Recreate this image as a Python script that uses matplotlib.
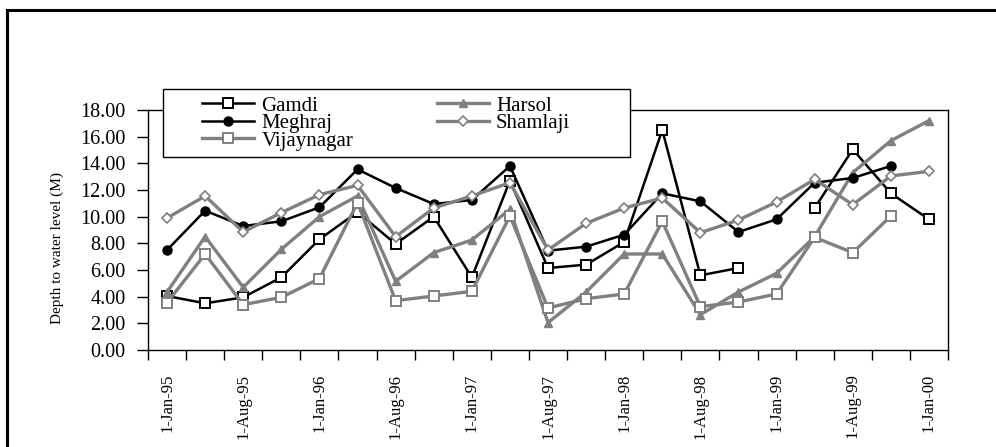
import numpy as np
import matplotlib
matplotlib.use('Agg')
import matplotlib.pyplot as plt
from matplotlib.lines import Line2D
from matplotlib.patches import Rectangle

plt.rcParams['font.family'] = ['Liberation Serif', 'DejaVu Serif']

# ------------------------------------------------------------
# Data (read off the chart, 21 observations, None = no reading)
# ------------------------------------------------------------
date_labels = ['1-Jan-95', '1-Aug-95', '1-Jan-96', '1-Aug-96', '1-Jan-97',
               '1-Aug-97', '1-Jan-98', '1-Aug-98', '1-Jan-99', '1-Aug-99',
               '1-Jan-00']

gamdi = [4.05, 3.50, 3.95, 5.45, 8.30, 10.35, 7.95, 10.00, 5.45, 12.70,
         6.15, 6.40, 8.10, 16.50, 5.60, 6.15, None, 10.65, 15.05, 11.75, 9.80]
harsol = [4.35, 8.50, 4.70, 7.55, 10.00, 11.55, 5.15, 7.30, 8.25, 10.55,
          2.05, 4.35, 7.20, 7.20, 2.65, 4.35, 5.75, 8.50, 13.30, 15.70, 17.20]
meghraj = [7.50, 10.45, 9.30, 9.65, 10.70, 13.55, 12.15, 10.95, 11.25, 13.80,
           7.45, 7.75, 8.65, 11.75, 11.15, 8.85, 9.80, 12.55, 12.90, 13.80, None]
shamlaji = [9.90, 11.55, 8.85, 10.30, 11.65, 12.35, 8.50, 10.65, 11.55, 12.55,
            7.50, 9.50, 10.65, 11.40, 8.80, 9.75, 11.10, 12.80, 10.90, 13.05, 13.40]
vijaynagar = [3.55, 7.20, 3.40, 3.95, 5.35, 11.05, 3.70, 4.05, 4.40, 10.05,
              3.15, 3.85, 4.20, 9.65, 3.25, 3.60, 4.20, 8.45, 7.30, 10.05, None]

GRAY = '#808080'
W, H = 996, 447


def arr(v):
    return np.array([np.nan if x is None else x for x in v], dtype=float)


x = np.arange(len(gamdi))

fig = plt.figure(figsize=(W / 100, H / 100), dpi=100)
ax = fig.add_axes([148 / W, 97 / H, 800 / W, 240 / H])

ax.plot(x, arr(gamdi), color='black', lw=1.8, marker='s', ms=7.2,
        mfc='white', mec='black', mew=1.4, label='Gamdi', zorder=3)
ax.plot(x, arr(harsol), color=GRAY, lw=2.4, marker='^', ms=5.5,
        mfc=GRAY, mec=GRAY, label='Harsol', zorder=4)
ax.plot(x, arr(meghraj), color='black', lw=1.8, marker='o', ms=6.5,
        mfc='black', mec='black', label='Meghraj', zorder=5)
ax.plot(x, arr(shamlaji), color=GRAY, lw=2.4, marker='D', ms=5.5,
        mfc='white', mec=GRAY, mew=1.2, label='Shamlaji', zorder=6)
ax.plot(x, arr(vijaynagar), color=GRAY, lw=2.4, marker='s', ms=7.2,
        mfc='white', mec=GRAY, mew=1.4, label='Vijaynagar', zorder=7)

# ---- axes ----
ax.set_xlim(-0.5, len(x) - 0.5)
ax.set_ylim(0, 18)
ax.set_yticks(np.arange(0, 18.1, 2))
ax.set_yticklabels([f'{v:.2f}' for v in np.arange(0, 18.1, 2)], fontsize=14.5)
ax.tick_params(axis='y', direction='out', length=8, width=1, pad=8)

ax.set_xticks(np.arange(0, len(x), 2))
ax.set_xticklabels(date_labels, rotation=90, fontsize=12)
ax.tick_params(axis='x', which='major', length=0, pad=17)
ax.set_xticks(np.arange(-0.5, len(x), 1), minor=True)
ax.tick_params(axis='x', which='minor', direction='out', length=7, width=1)

for s in ax.spines.values():
    s.set_linewidth(1)
    s.set_color('black')

fig.text(57 / W, 1 - 248 / H, 'Depth to water level (M)', rotation=90,
         fontsize=11, ha='center', va='center')

# ---- legend box (drawn separately so its size matches) ----
box = Rectangle((163 / W, 1 - 157 / H), (630 - 163) / W, 68 / H,
                transform=fig.transFigure, facecolor='white',
                edgecolor='black', lw=1, clip_on=False, zorder=9)
ax.add_patch(box)

handles, labels = ax.get_legend_handles_labels()
order = [0, 2, 4, 1, 3]
leg = ax.legend([handles[i] for i in order], [labels[i] for i in order],
                ncol=2, loc='upper left',
                bbox_to_anchor=(202 / W, 1 - 96 / H),
                bbox_transform=fig.transFigure,
                fontsize=15, frameon=False,
                borderaxespad=0, borderpad=0, labelspacing=-0.1,
                handlelength=2.5, handletextpad=0.35, columnspacing=4.0)
leg.set_zorder(10)

# ---- outer chart border (left & top visible) ----
fig.add_artist(Line2D([7 / W, 7 / W], [0, 1 - 10 / H],
                      transform=fig.transFigure, color='black', lw=2.2))
fig.add_artist(Line2D([7 / W, 1], [1 - 10 / H, 1 - 10 / H],
                      transform=fig.transFigure, color='black', lw=2.2))

fig.savefig('out.png', dpi=100, facecolor='white')
